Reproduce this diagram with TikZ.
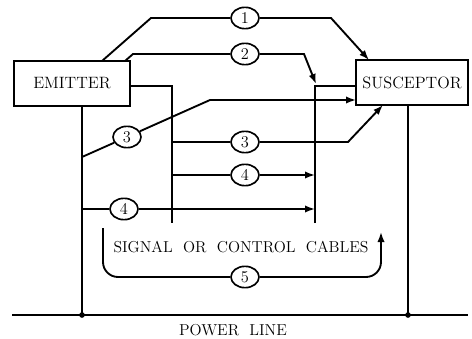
\documentclass[tikz,border=0pt]{standalone}
\usepackage{xcolor}
\usepackage{tikz}
\usetikzlibrary{arrows.meta,shapes.geometric}
\tikzset{%
  unitbox/.style={draw, rectangle, line width=1.5pt, inner sep=0pt, minimum height=1.35cm, font=\fontsize{14pt}{16pt}\selectfont},
  numring/.style={draw, ellipse, line width=1.4pt, inner sep=0pt, minimum width=0.84cm, minimum height=0.64cm, font=\fontsize{14pt}{16pt}\selectfont},
  cable/.style={line width=1.6pt},
  cablearrow/.style={cable, -{Latex[length=0.3cm,width=0.22cm]}},
  caption/.style={font=\fontsize{13.5pt}{16pt}\selectfont},
}

\begin{document}
\begin{tikzpicture}[x=0.03cm, y=-0.03cm]%
\useasboundingbox (0,0) rectangle (472,339);%
% the two units
\node[unitbox, minimum width=3.48cm] (emitter) at (72,83.5) {EMITTER};%
\node[unitbox, minimum width=3.36cm] (susceptor) at (412,82.5) {SUSCEPTOR};%
% numbered paths
\node[numring] (n1) at (245,18) {1};%
\node[numring] (n2) at (245,54) {2};%
\node[numring] (n3a) at (127,137) {3};%
\node[numring] (n3b) at (245,142) {3};%
\node[numring] (n4a) at (245,175) {4};%
\node[numring] (n4b) at (124,209) {4};%
\node[numring] (n5) at (245,277) {5};%
% end points
\coordinate (e1) at (102,61);%
\coordinate (e2) at (125,61);%
\coordinate (eright) at (130,86);%
\coordinate (ebot) at (82,106);%
\coordinate (s1) at (369,60);%
\coordinate (s2) at (316,84);%
\coordinate (s3a) at (356,100);%
\coordinate (s3b) at (383,105);%
\coordinate (sbot) at (408,105);%
\coordinate (pe) at (82,315);%
\coordinate (ps) at (408,315);%
\coordinate (pl) at (12,315);%
\coordinate (pr) at (468,315);%
% power line
\draw[cable] (pl) -- (pr);%
\draw[cable] (ebot) -- (pe);%
\draw[cable] (sbot) -- (ps);%
\fill (pe) circle (2.4pt);%
\fill (ps) circle (2.4pt);%
% signal or control cables
\draw[cable] (eright) -- (172,86) -- (172,223);%
\draw[cable] (315,223) -- (315,86) -- (356,86);%
% radiated and conducted paths
\draw[cablearrow] (e1) -- (151,18) -- (n1) -- (331,18) -- (s1);%
\draw[cablearrow] (e2) -- (133,54) -- (n2) -- (304,54) -- (s2);%
\draw[cablearrow] (82,157) -- (n3a) -- (210,100) -- (s3a);%
\draw[cablearrow] (172,142) -- (n3b) -- (348,142) -- (s3b);%
\draw[cablearrow] (172,175) -- (n4a) -- (315,175);%
\draw[cablearrow] (82,209) -- (n4b) -- (315,209);%
\draw[cablearrow, rounded corners=0.45cm] (103,228) -- (103,277) -- (n5) -- (381,277) -- (381,232);%
% labels
\node[caption] (cables) at (241,247) {SIGNAL\ \ OR\ \ CONTROL\ \ CABLES};%
\node[caption] (power) at (233,330) {POWER\ \ LINE};%
\end{tikzpicture}
\end{document}
